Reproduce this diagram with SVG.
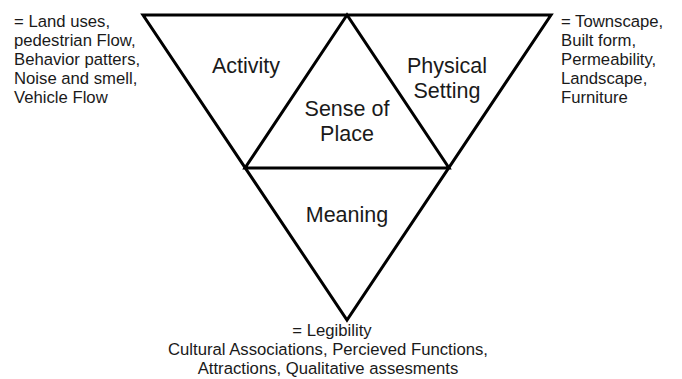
<svg xmlns="http://www.w3.org/2000/svg" width="682" height="379" viewBox="0 0 682 379">
<style>
.l{fill:none;stroke:#000;stroke-width:3;stroke-linejoin:miter}
.t{font-family:"Liberation Sans",Arial,sans-serif;fill:#1a1a1a}
.s{font-size:16.7px}
.b{font-size:21.5px;text-anchor:middle}
</style>
<rect width="682" height="379" fill="#fff"/>
<g id="connectors">
<path class="l" d="M143,15 L551,15 L347,320 Z"/>
<path class="l" d="M347,15 L245,168 L449,168 Z"/>
</g>
<g id="activity"><text class="t b" x="246" y="73">Activity</text></g>
<g id="physical"><text class="t b" x="447" y="73">Physical</text><text class="t b" x="447" y="98">Setting</text></g>
<g id="sense"><text class="t b" x="347" y="116">Sense of</text><text class="t b" x="347" y="141">Place</text></g>
<g id="meaning"><text class="t b" x="347" y="222">Meaning</text></g>
<g id="left-notes"><text class="t s" x="14" y="27">= Land uses,</text><text class="t s" x="14" y="46">pedestrian Flow,</text><text class="t s" x="14" y="65">Behavior patters,</text><text class="t s" x="14" y="84">Noise and smell,</text><text class="t s" x="14" y="103">Vehicle Flow</text></g>
<g id="right-notes"><text class="t s" x="561" y="27">= Townscape,</text><text class="t s" x="561" y="46">Built form,</text><text class="t s" x="561" y="65">Permeability,</text><text class="t s" x="561" y="84">Landscape,</text><text class="t s" x="561" y="103">Furniture</text></g>
<g id="bottom-notes" text-anchor="middle"><text class="t s" x="332" y="336">= Legibility</text><text class="t s" x="328" y="355">Cultural Associations, Percieved Functions,</text><text class="t s" x="328" y="374">Attractions, Qualitative assesments</text></g>
</svg>
